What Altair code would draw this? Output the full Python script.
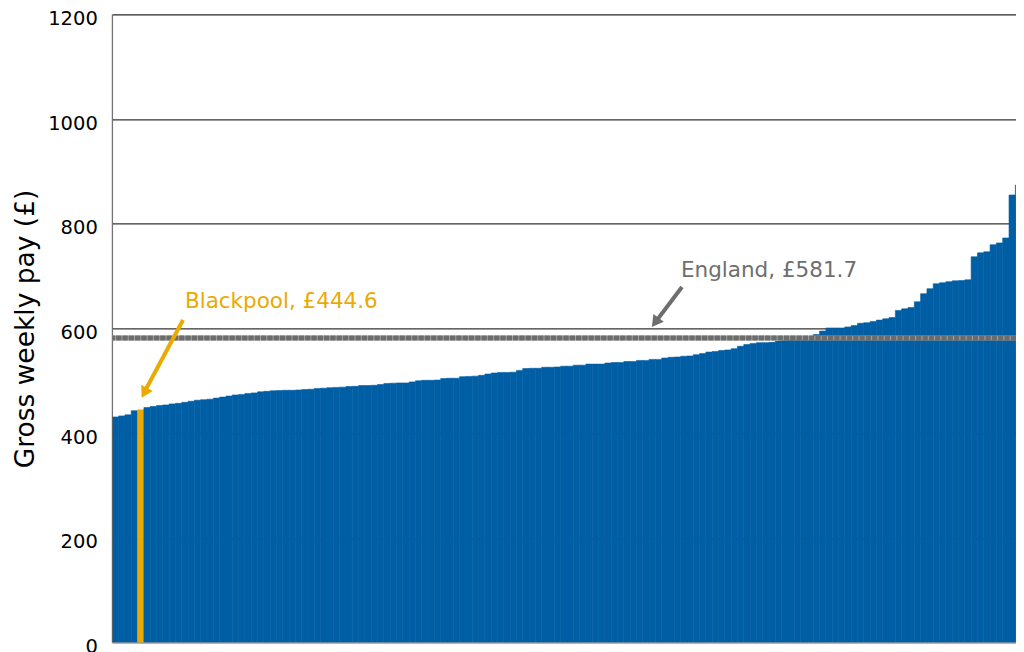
import altair as alt
import pandas as pd

# Gross weekly pay (£) by local authority, sorted ascending
pay = [431, 433, 435, 443, 444.6, 449, 451, 453, 454, 456,
       457, 459, 461, 463, 464, 465, 467, 469, 471, 473,
       474, 476, 477, 479, 480, 481, 481.5, 482, 482, 482.5,
       483.5, 484, 485.5, 486, 487, 487.5, 488, 489, 489.5, 491,
       491, 491.5, 493, 495, 495.5, 496, 496, 498, 500, 501,
       501, 501.5, 504.5, 505, 505, 508, 508.5, 509, 510.5, 513,
       515, 516, 516, 516.5, 520, 523.5, 524, 524, 526, 526,
       526.5, 528, 528, 530, 530, 532, 532, 532, 534, 535,
       535, 537, 537, 539, 539, 541, 541, 543.5, 545, 545.5,
       547, 547.5, 550, 552, 555, 556, 558, 559, 561.5, 566,
       569.5, 571.5, 573, 573, 573.5, 576, 577, 579, 580, 582,
       584, 588.5, 595, 601, 601, 601, 603, 605.5, 610, 611,
       613.5, 616, 618.5, 621, 634.5, 637.5, 640, 651, 666.5, 676,
       685.5, 687.5, 689.5, 691, 691.5, 693, 737, 744.5, 746.5, 760,
       763.5, 773, 855, 874, 956]
highlight_index = 4          # Blackpool
england_value = 581.7
y_ticks = [0, 200, 400, 600, 800, 1000, 1200]

# annotation texts and anchor positions (data units)
ann_text = ["Blackpool, £444.6", "England, £581.7"]
ann_x = [11.5, 90.06]
ann_y = [650.6, 709.8]
ann_color = ["#EAAA00", "#6E6E6E"]
arrow_x = [11.2, 90.21]
arrow_y = [616.2, 679.3]
arrow_x2 = [5.34, 86.26]
arrow_y2 = [484.4, 616.2]
head_x = [5.07, 85.97]
head_y = [477.2, 611.6]
head_angle = [208.3, 217.1]

BLUE = "#005EA4"
YELLOW = "#EAAA00"
FONT = "DejaVu Sans"

n = len(pay)
df = pd.DataFrame({
    "x0": list(range(n)),
    "x1": [i + 1 for i in range(n)],
    "pay": pay,
    "group": ["Blackpool" if i == highlight_index else "Other" for i in range(n)],
})
ann = pd.DataFrame({"text": ann_text, "x": ann_x, "y": ann_y, "c": ann_color,
                    "ax": arrow_x, "ay": arrow_y, "ax2": arrow_x2, "ay2": arrow_y2,
                    "hx": head_x, "hy": head_y, "ang": head_angle})

BAR_W = 6.315
W = 903.7            # visible plot width (page is cut at the right edge)
H = 628.2
xscale = alt.Scale(domain=[0, n], range=[0, n * BAR_W], nice=False, zero=False)
yscale = alt.Scale(domain=[0, 1200], nice=False)
cscale = alt.Scale(domain=["Other", "Blackpool"], range=[BLUE, YELLOW])

bars = alt.Chart(df).mark_rect(strokeWidth=0.6, clip=True).encode(
    x=alt.X("x0:Q", scale=xscale,
            axis=alt.Axis(title=None, labels=False, ticks=False, grid=False,
                          domainColor="#cccccc", domainWidth=1, zindex=1)),
    x2="x1:Q",
    y=alt.Y("pay:Q", scale=yscale,
            axis=alt.Axis(values=y_ticks, format="d", grid=True, gridColor="#000000",
                          gridWidth=1, ticks=False, domain=False, labelFont=FONT,
                          labelFontSize=19.5, labelColor="#000000", labelPadding=15,
                          labelOffset=4,
                          title="Gross weekly pay (£)", titleFont=FONT, titleFontSize=26.5,
                          titleFontWeight="normal", titleColor="#000000",
                          titleX=-87, titleY=H / 2, titleAngle=270,
                          titleAlign="center", titleBaseline="middle")),
    y2=alt.datum(0),
    color=alt.Color("group:N", scale=cscale, legend=None),
    stroke=alt.Stroke("group:N", scale=cscale, legend=None),
)

left_domain = alt.Chart(pd.DataFrame({"x": [0]})).mark_rule(
    color="#555555", strokeWidth=1).encode(x=alt.X("x:Q", scale=xscale))

eng_df = pd.DataFrame({"v": [england_value]})
eng_base = alt.Chart(eng_df).mark_rule(color="#a3a3a3", strokeWidth=5).encode(
    y=alt.Y("v:Q", scale=yscale))
eng_dash = alt.Chart(eng_df).mark_rule(color="#6c6c6c", strokeWidth=5,
                                       strokeDash=[5.3, 1.0]).encode(
    y=alt.Y("v:Q", scale=yscale))

arrows = alt.Chart(ann).mark_rule(strokeWidth=4).encode(
    x=alt.X("ax:Q", scale=xscale), y=alt.Y("ay:Q", scale=yscale),
    x2="ax2:Q", y2="ay2:Q",
    color=alt.Color("c:N", scale=None))
heads = alt.Chart(ann).mark_point(shape="triangle-up", filled=True, size=170, opacity=1).encode(
    x=alt.X("hx:Q", scale=xscale), y=alt.Y("hy:Q", scale=yscale),
    angle=alt.Angle("ang:Q", scale=None),
    color=alt.Color("c:N", scale=None))
labels = alt.Chart(ann).mark_text(font=FONT, fontSize=21.5, align="left",
                                  baseline="middle").encode(
    x=alt.X("x:Q", scale=xscale), y=alt.Y("y:Q", scale=yscale),
    text="text:N", color=alt.Color("c:N", scale=None))

chart = alt.layer(bars, left_domain, eng_base, eng_dash, arrows, heads, labels).properties(
    width=W, height=H,
    autosize=alt.AutoSizeParams(type="none"),
    padding={"left": 104.3, "top": 6.4, "right": 0, "bottom": 30},
).configure_view(stroke=None).configure(background="white")

chart.save("out.html", embed_options={"renderer": "svg", "actions": False})
